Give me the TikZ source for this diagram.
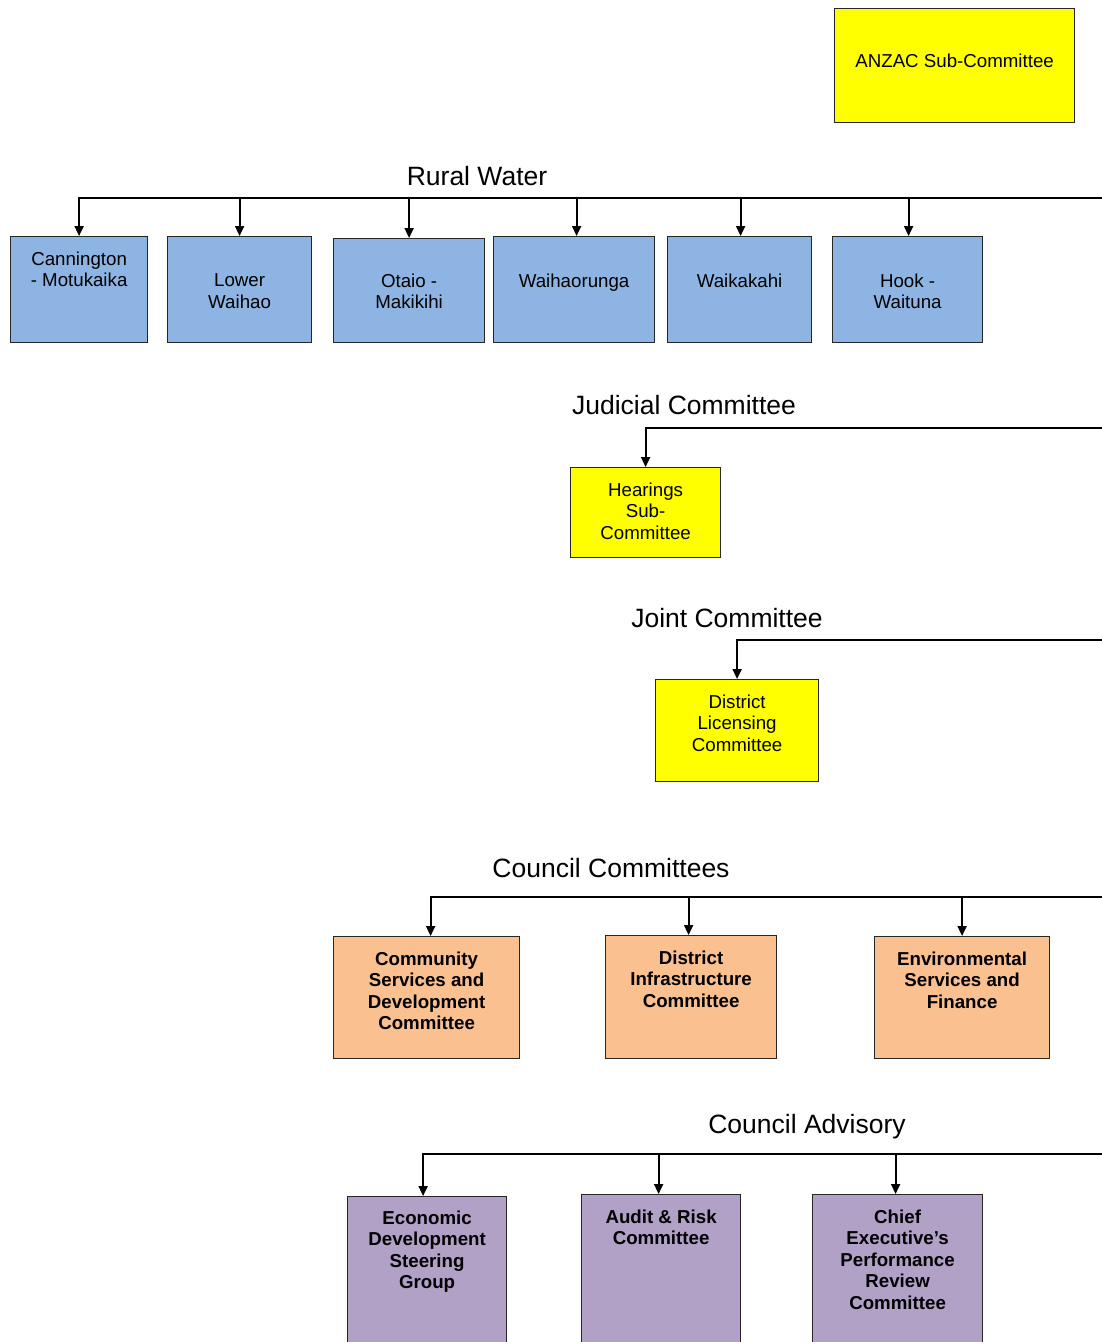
\documentclass[tikz,border=0pt]{standalone}
\usepackage{fontspec}
\setmainfont{Liberation Sans}
\usetikzlibrary{arrows.meta,positioning,calc}

\definecolor{waterblue}{RGB}{141,180,226}
\definecolor{subyellow}{RGB}{255,255,0}
\definecolor{cttorange}{RGB}{250,192,144}
\definecolor{advpurple}{RGB}{178,161,199}

\tikzset{
  box/.style={draw=black!85, line width=1.2pt, inner sep=0pt, anchor=north west},
  water/.style={box, fill=waterblue},
  sub/.style={box, fill=subyellow},
  ctte/.style={box, fill=cttorange},
  advisory/.style={box, fill=advpurple},
  boxtext/.style={inner sep=0pt, align=center, font=\fontsize{18.7}{21.5}\selectfont},
  boldtext/.style={boxtext, font=\fontsize{18.7}{21.5}\selectfont\bfseries},
  heading/.style={anchor=base, inner sep=0pt, font=\fontsize{26.5}{30}\selectfont},
  link/.style={line width=2pt, -{Triangle[length=10pt,width=9pt]}}
}

\begin{document}
\begin{tikzpicture}[x=1pt, y=-1pt]
  \clip (0,0) rectangle (1102,1342);

  % ANZAC
  \node[sub, minimum width=240, minimum height=114] (anzac) at (834,8) {};
  \node[boxtext, below=45.5pt of anzac.north] (anzac-t) {ANZAC Sub-Committee};

  % Rural Water
  \node[heading] (rw) at (477,185.5) {Rural Water};
  \coordinate (rw-end) at (1102,198);

  \node[water, minimum width=137, minimum height=106] (cann) at (10,236) {};
  \node[water, minimum width=144, minimum height=106] (lower) at (167,236) {};
  \node[water, minimum width=151, minimum height=104] (otaio) at (333,238) {};
  \node[water, minimum width=161, minimum height=106] (waih) at (493,236) {};
  \node[water, minimum width=144, minimum height=106] (waik) at (667,236) {};
  \node[water, minimum width=150, minimum height=106] (hook) at (832,236) {};

  \node[boxtext, below=15.5pt of cann.north] (cann-t) {Cannington\\- Motukaika};
  \node[boxtext, below=37.5pt of lower.north] (lower-t) {Lower\\Waihao};
  \node[boxtext, below=35.5pt of otaio.north] (otaio-t) {Otaio -\\Makikihi};
  \node[boxtext, below=37.5pt of waih.north] (waih-t) {Waihaorunga};
  \node[boxtext, below=37.5pt of waik.north] (waik-t) {Waikakahi};
  \node[boxtext, below=37.5pt of hook.north] (hook-t) {Hook -\\Waituna};

  \draw[link] (rw-end) -| (cann.north);
  \foreach \b/\dx in {lower/0,otaio/0,waih/2.5,waik/1,hook/1}
    \draw[link] ($(rw-end -| \b.north)+(\dx,0)$) -- ($(\b.north)+(\dx,0)$);

  % Judicial Committee
  \node[heading] (jc) at (684,414.5) {Judicial Committee};
  \coordinate (jc-end) at (1102,428);
  \node[sub, minimum width=150, minimum height=90] (hear) at (570,467) {};
  \node[boxtext, below=15.5pt of hear.north] (hear-t) {Hearings\\Sub-\\Committee};
  \draw[link] (jc-end) -| (hear.north);

  % Joint Committee
  \node[heading] (joint) at (727,627.5) {Joint Committee};
  \coordinate (joint-end) at (1102,640);
  \node[sub, minimum width=163, minimum height=102] (dlc) at (655,679) {};
  \node[boxtext, below=15.5pt of dlc.north] (dlc-t) {District\\Licensing\\Committee};
  \draw[link] (joint-end) -| (dlc.north);

  % Council Committees
  \node[heading] (cc) at (611,877.5) {Council Committees};
  \coordinate (cc-end) at (1102,897);
  \node[ctte, minimum width=186, minimum height=122] (csd) at (333,936) {};
  \node[ctte, minimum width=171, minimum height=123] (dic) at (605,935) {};
  \node[ctte, minimum width=175, minimum height=122] (esf) at (874,936) {};

  \node[boldtext, below=15.5pt of csd.north] (csd-t) {Community\\Services and\\Development\\Committee};
  \node[boldtext, below=15.5pt of dic.north] (dic-t) {District\\Infrastructure\\Committee};
  \node[boldtext, below=15.5pt of esf.north] (esf-t) {Environmental\\Services and\\Finance};

  \draw[link] (cc-end) -| ($(csd.north)+(4,0)$);
  \foreach \b/\dx in {dic/-2.5,esf/0}
    \draw[link] ($(cc-end -| \b.north)+(\dx,0)$) -- ($(\b.north)+(\dx,0)$);

  % Council Advisory
  \node[heading] (ca) at (807,1133.5) {Council Advisory};
  \coordinate (ca-end) at (1102,1154);
  \node[advisory, minimum width=159, minimum height=160] (edsg) at (347,1196) {};
  \node[advisory, minimum width=159, minimum height=160] (arc) at (581,1194) {};
  \node[advisory, minimum width=170, minimum height=160] (cepr) at (812,1194) {};

  \node[boldtext, below=14.5pt of edsg.north] (edsg-t) {Economic\\Development\\Steering\\Group};
  \node[boldtext, below=15.5pt of arc.north] (arc-t) {Audit \& Risk\\Committee};
  \node[boldtext, below=15.5pt of cepr.north] (cepr-t) {Chief\\Executive’s\\Performance\\Review\\Committee};

  \draw[link] (ca-end) -| ($(edsg.north)+(-4,0)$);
  \foreach \b/\dx in {arc/-2.5,cepr/-2}
    \draw[link] ($(ca-end -| \b.north)+(\dx,0)$) -- ($(\b.north)+(\dx,0)$);

\end{tikzpicture}
\end{document}
